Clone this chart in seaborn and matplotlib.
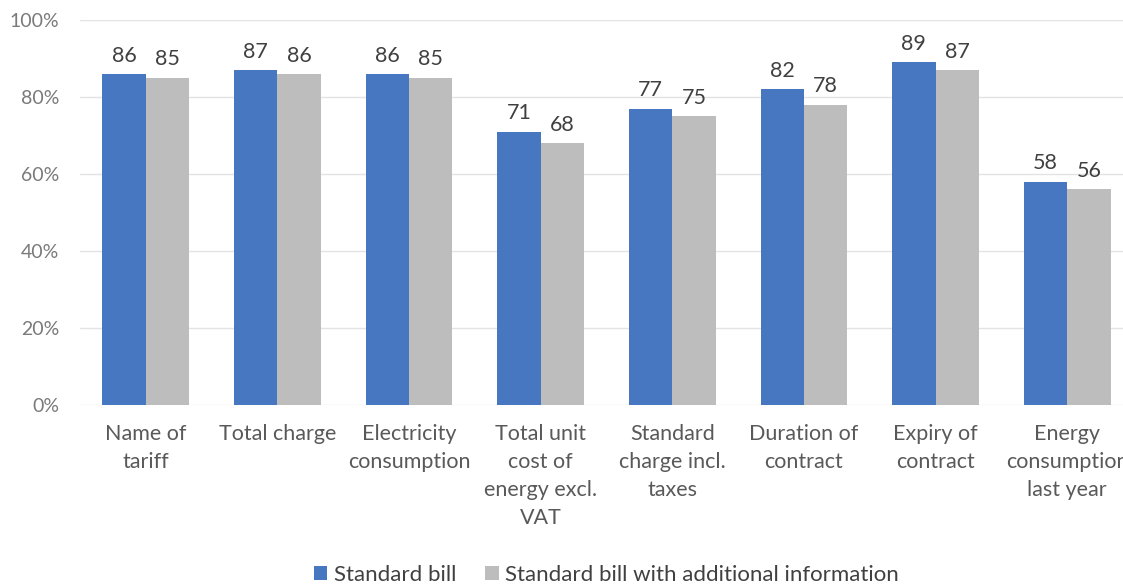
import pandas as pd
import matplotlib.pyplot as plt
import seaborn as sns

# 数据
categories = ['Name of\ntariff', 'Total charge', 'Electricity\nconsumption',
              'Total unit\ncost of\nenergy excl.\nVAT', 'Standard\ncharge incl.\ntaxes',
              'Duration of\ncontract', 'Expiry of\ncontract', 'Energy\nconsumption\nlast year']
standard_bill = [86, 87, 86, 71, 77, 82, 89, 58]
additional_info = [85, 86, 85, 68, 75, 78, 87, 56]
series_names = ['Standard bill', 'Standard bill with additional information']
colors = ['#4677C0', '#BDBDBD']

df = pd.DataFrame({
    'category': categories * 2,
    'value': standard_bill + additional_info,
    'series': [series_names[0]] * len(categories) + [series_names[1]] * len(categories),
})

sns.set_style('white')
plt.rcParams['font.family'] = ['Lato', 'DejaVu Sans']

fig = plt.figure(figsize=(11.23, 5.84), dpi=100)
ax = fig.add_axes([80 / 1123, 179 / 584, 1053 / 1123, 385 / 584])

sns.barplot(data=df, x='category', y='value', hue='series', palette=colors,
            width=0.66, saturation=1, linewidth=0, ax=ax)

# 柱子上的数字
for container in ax.containers:
    ax.bar_label(container, fmt='%d', padding=6, fontsize=15.5, color='#404040')

ax.set_ylim(0, 100)
ax.set_yticks([0, 20, 40, 60, 80, 100])
ax.set_yticklabels(['0%', '20%', '40%', '60%', '80%', '100%'])
ax.yaxis.grid(True, color='#E3E3E3', linewidth=1)
ax.set_axisbelow(True)
for s in ax.spines.values():
    s.set_visible(False)
ax.set_xlabel('')
ax.set_ylabel('')
ax.tick_params(axis='y', labelsize=14, labelcolor='#7A7A7A', length=0, pad=15)
ax.tick_params(axis='x', labelsize=15.5, labelcolor='#595959', length=0, pad=14)
for lbl in ax.get_xticklabels():
    lbl.set_linespacing(1.5)
    lbl.set_verticalalignment('top')

# 图例放在底部
ax.legend(loc='center', ncol=2, frameon=False, fontsize=16,
          handlelength=0.6, handleheight=0.6, handletextpad=0.3,
          columnspacing=1.3, labelcolor='#404040')
leg = ax.get_legend()
leg.set_bbox_to_anchor((0.5, -170 / 385), transform=ax.transAxes)

fig.savefig('out.png', dpi=100)
